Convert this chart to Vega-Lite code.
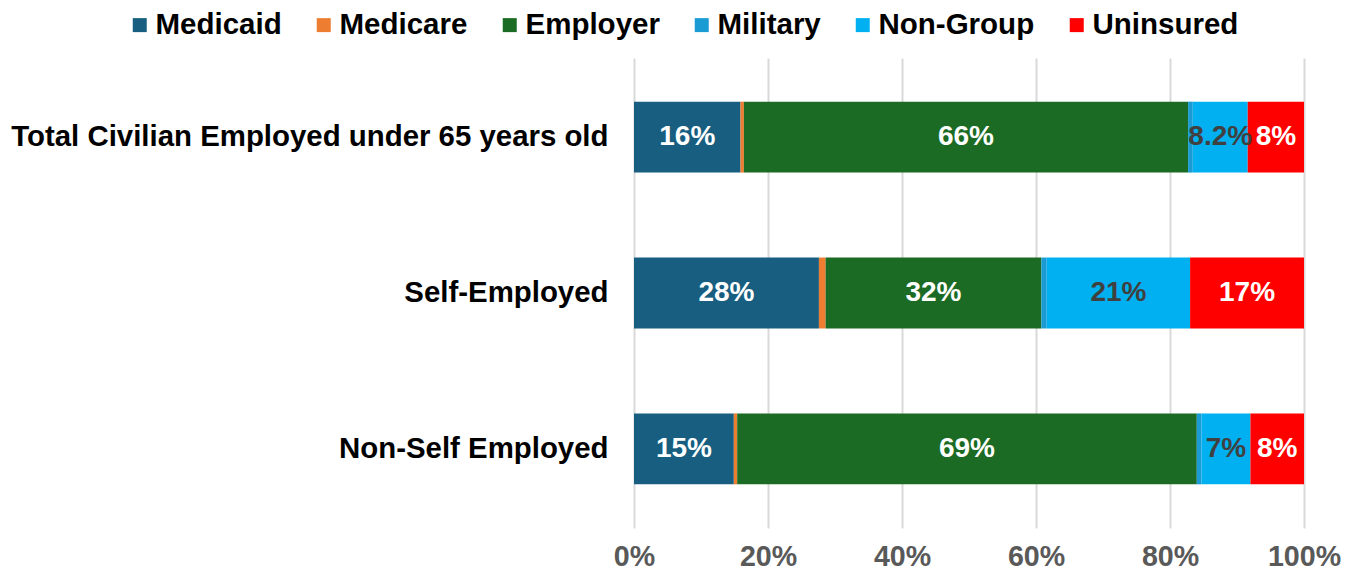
{
  "$schema": "https://vega.github.io/schema/vega-lite/v6.json",
  "autosize": {"type": "none"},
  "width": 670,
  "height": 470,
  "padding": {"left": 634, "top": 58, "right": 55, "bottom": 50},
  "background": "white",
  "config": {
    "view": {"stroke": null},
    "font": "Liberation Sans"
  },
  "data": {
    "values": [
      {"group": "Total Civilian Employed under 65 years old", "type": "Medicaid", "order": 1, "value": 15.9, "label": "16%"},
      {"group": "Total Civilian Employed under 65 years old", "type": "Medicare", "order": 2, "value": 0.5, "label": ""},
      {"group": "Total Civilian Employed under 65 years old", "type": "Employer", "order": 3, "value": 66.3, "label": "66%"},
      {"group": "Total Civilian Employed under 65 years old", "type": "Military", "order": 4, "value": 0.7, "label": ""},
      {"group": "Total Civilian Employed under 65 years old", "type": "Non-Group", "order": 5, "value": 8.2, "label": "8.2%"},
      {"group": "Total Civilian Employed under 65 years old", "type": "Uninsured", "order": 6, "value": 8.4, "label": "8%"},
      {"group": "Self-Employed", "type": "Medicaid", "order": 1, "value": 27.6, "label": "28%"},
      {"group": "Self-Employed", "type": "Medicare", "order": 2, "value": 1.0, "label": ""},
      {"group": "Self-Employed", "type": "Employer", "order": 3, "value": 32.2, "label": "32%"},
      {"group": "Self-Employed", "type": "Military", "order": 4, "value": 0.8, "label": ""},
      {"group": "Self-Employed", "type": "Non-Group", "order": 5, "value": 21.4, "label": "21%"},
      {"group": "Self-Employed", "type": "Uninsured", "order": 6, "value": 17.0, "label": "17%"},
      {"group": "Non-Self Employed", "type": "Medicaid", "order": 1, "value": 14.9, "label": "15%"},
      {"group": "Non-Self Employed", "type": "Medicare", "order": 2, "value": 0.5, "label": ""},
      {"group": "Non-Self Employed", "type": "Employer", "order": 3, "value": 68.6, "label": "69%"},
      {"group": "Non-Self Employed", "type": "Military", "order": 4, "value": 0.7, "label": ""},
      {"group": "Non-Self Employed", "type": "Non-Group", "order": 5, "value": 7.3, "label": "7%"},
      {"group": "Non-Self Employed", "type": "Uninsured", "order": 6, "value": 8.0, "label": "8%"}
    ]
  },
  "encoding": {
    "y": {
      "field": "group",
      "type": "nominal",
      "sort": null,
      "scale": {"paddingInner": 0.545, "paddingOuter": 0.28},
      "axis": {
        "title": null,
        "domain": false,
        "ticks": false,
        "labelFont": "Liberation Sans",
        "labelFontSize": 29.4,
        "labelFontWeight": "bold",
        "labelColor": "#000000",
        "labelPadding": 26,
        "labelLimit": 700
      }
    },
    "x": {
      "field": "value",
      "type": "quantitative",
      "stack": "zero",
      "scale": {"domain": [0, 100], "nice": false},
      "axis": {
        "title": null,
        "values": [0, 20, 40, 60, 80, 100],
        "labelExpr": "datum.value + '%'",
        "domain": false,
        "ticks": false,
        "grid": true,
        "gridColor": "#d9d9d9",
        "gridWidth": 2,
        "labelFont": "Liberation Sans",
        "labelFontSize": 28.6,
        "labelFontWeight": "bold",
        "labelColor": "#595959",
        "labelPadding": 14,
        "labelFlush": false
      }
    },
    "order": {"field": "order", "type": "quantitative", "sort": "ascending"}
  },
  "layer": [
    {
      "mark": {"type": "bar"},
      "encoding": {
        "color": {
          "field": "type",
          "type": "nominal",
          "scale": {
            "domain": ["Medicaid", "Medicare", "Employer", "Military", "Non-Group", "Uninsured"],
            "range": ["#175e80", "#ed7d31", "#1b6b24", "#1b9bd4", "#00b0f0", "#ff0000"]
          },
          "legend": {
            "title": null,
            "orient": "none",
            "direction": "horizontal",
            "legendX": -509,
            "legendY": -48,
            "padding": 0,
            "symbolType": "square",
            "symbolSize": 196,
            "symbolStrokeWidth": 0,
            "labelFont": "Liberation Sans",
            "labelFontSize": 29.5,
            "labelFontWeight": "bold",
            "labelColor": "#000000",
            "labelOffset": 1,
            "columnPadding": 27,
            "labelLimit": 300
          }
        }
      }
    },
    {
      "mark": {
        "type": "text",
        "font": "Liberation Sans",
        "fontSize": 28,
        "fontWeight": "bold",
        "align": "center",
        "baseline": "middle"
      },
      "encoding": {
        "x": {"field": "value", "type": "quantitative", "stack": "zero", "bandPosition": 0.5},
        "text": {"field": "label", "type": "nominal"},
        "color": {
          "condition": {"test": "datum.type === 'Non-Group'", "value": "#404040"},
          "value": "#ffffff"
        }
      }
    }
  ]
}
